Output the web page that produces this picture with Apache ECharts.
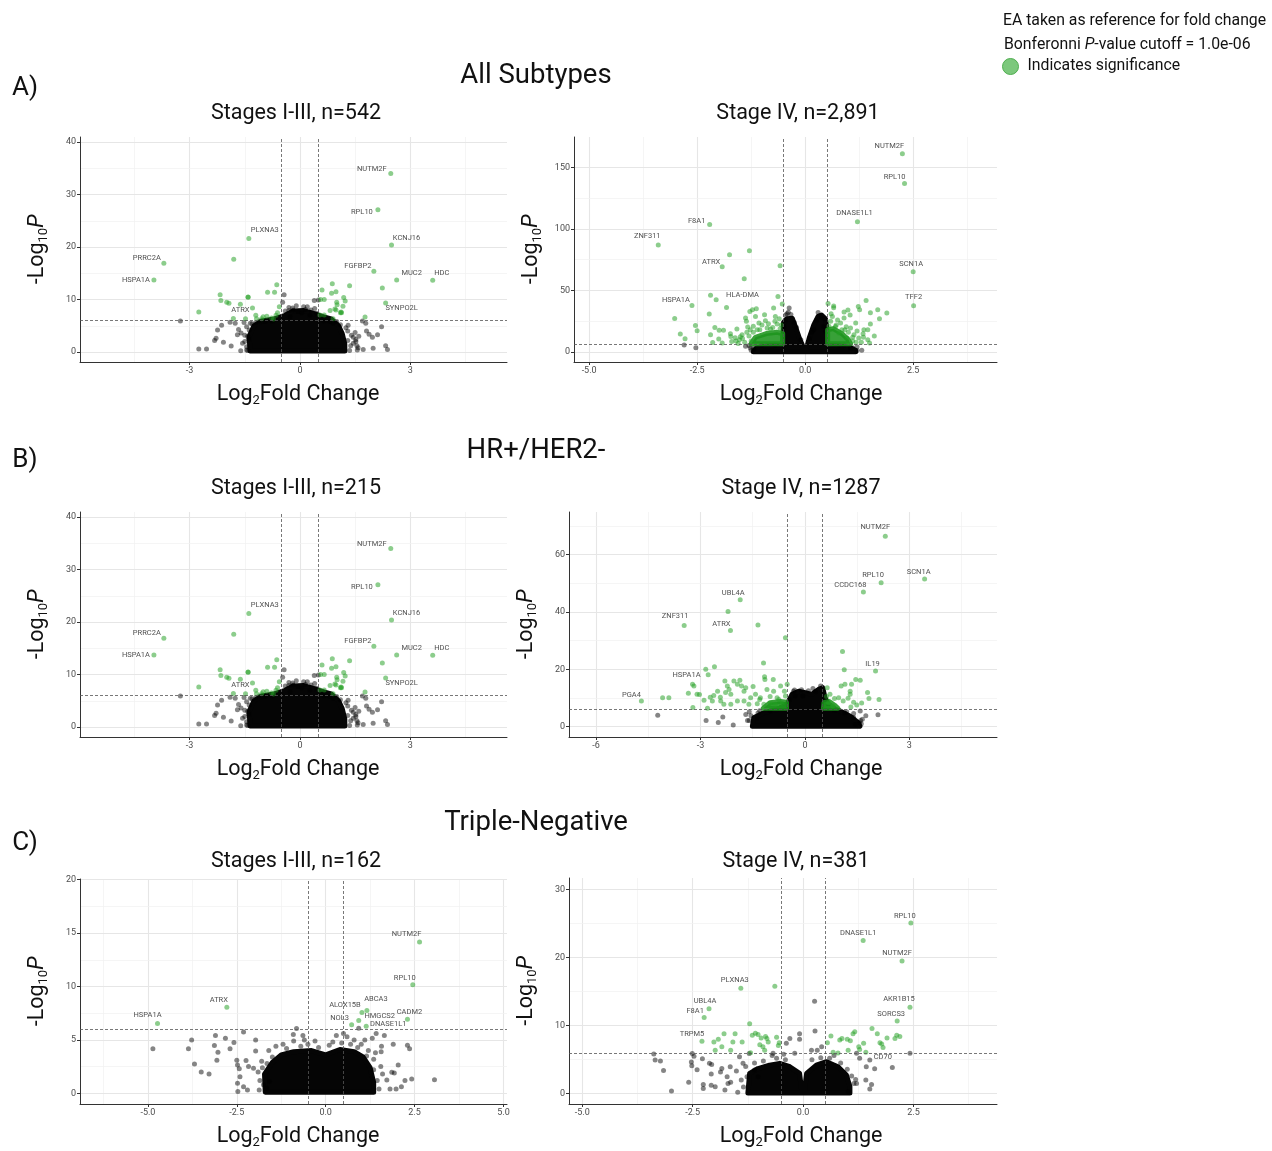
<!DOCTYPE html>
<html>
<head>
<meta charset="utf-8">
<script src="https://cdn.jsdelivr.net/npm/echarts@6.0.0/dist/echarts.min.js"></script>
<style>
html, body { margin: 0; padding: 0; background: #fff; }
#plot { width: 1272px; height: 1151px; }
</style>
</head>
<body>
<div id="plot"></div>
<script>
// ---- All Subtypes, Stages I-III ----
const a1Genes = [['NUTM2F', 2.47, 34.0], ['RPL10', 2.12, 27.1], ['KCNJ16', 2.49, 20.4], ['PLXNA3', -1.39, 21.6],
  ['PRRC2A', -3.70, 16.9], ['HSPA1A', -3.97, 13.7], ['FGFBP2', 2.01, 15.4], ['MUC2', 2.63, 13.7],
  ['HDC', 3.61, 13.65], ['SYNPO2L', 2.33, 9.33], ['ATRX', -1.62, 9.1]];
const a1Green = [[-1.80, 17.65], [-0.63, 12.8], [-0.88, 11.4], [-0.69, 11.4], [-1.41, 10.5], [-1.41, 10.45], [-2.17, 10.9],
  [-2.15, 9.8], [-1.99, 9.5], [-1.93, 9.3], [-1.29, 8.4], [-2.75, 7.6], [-0.56, 8.6], [-1.81, 6.4], [-1.48, 6.35],
  [-1.20, 7.0], [-1.0, 6.7], [-0.77, 6.5], [-0.65, 7.0], [-0.61, 7.5], [-1.18, 6.35], [-1.04, 6.35], [-0.9, 6.8], [-0.72, 6.3],
  [0.60, 11.8], [0.88, 13.0], [1.35, 12.6], [0.98, 11.5], [0.86, 11.2], [0.66, 10.0], [1.0, 9.5], [1.19, 10.4], [1.23, 9.7],
  [1.01, 9.0], [1.17, 8.7], [0.95, 8.2], [0.82, 7.9], [1.10, 7.5], [1.13, 7.5], [0.66, 7.05], [0.54, 7.05], [2.24, 12.2],
  [1.77, 6.67], [0.9, 6.35], [0.98, 8.0], [0.56, 10.0], [1.12, 7.6]];
const a1Black = [[-3.25, 5.9], [-2.75, 0.57], [-2.54, 0.57], [-2.24, 4.2], [-2.13, 5.1], [-2.28, 2.6], [-2.32, 2.2], [-2.08, 1.85],
  [-1.90, 5.65], [-1.87, 1.15], [-1.76, 5.5], [-1.67, 4.3], [-1.61, 0.25], [-1.56, 1.65], [-1.45, 0.4], [-0.43, 10.9],
  [-0.47, 9.5], [0.39, 9.8], [0.50, 9.9], [0.40, 8.3], [1.70, 5.9], [1.79, 5.5], [1.81, 4.0], [1.88, 3.4], [1.97, 2.8],
  [2.11, 3.3], [2.22, 4.8], [2.33, 1.2], [2.38, 0.5], [1.72, 0.5], [1.99, 0.7], [1.52, 2.4], [1.56, 0.4], [1.45, 1.65],
  [1.31, 5.1], [1.0, 5.8], [0.9, 5.5], [-0.18, 8.0], [-0.05, 7.7], [0.05, 7.5], [0.27, 7.0], [-0.27, 6.7], [-1.5, 3.2],
  [-1.45, 4.8], [-1.6, 3.6], [-1.4, 2.5], [-1.2, 5.6], [-0.3, 7.9], [0.15, 8.1], [0.6, 6.8], [1.5, 3.7], [1.6, 3.0],
  [1.55, 1.2], [-1.52, 5.6], [-1.7, 3.3], [-1.35, 5.5], [-1.42, 3.0], [-1.38, 4.2], [-1.3, 5.4], [-1.1, 5.9], [-0.95, 5.8],
  [-0.75, 5.9], [-0.4, 7.8], [-0.3, 8.5], [-0.1, 8.8], [0.1, 8.6], [0.3, 8.0], [0.45, 7.4], [0.65, 5.9], [0.8, 5.8],
  [1.1, 5.2], [1.3, 4.0], [1.4, 3.2], [1.52, 2.0], [1.58, 0.8], [-1.45, 1.0], [-1.5, 2.0], [-1.42, 0.3], [1.35, 0.3],
  [1.3, 2.2], [1.25, 4.6], [1.38, 1.2], [1.45, 2.8], [0.2, 8.6], [-0.2, 8.4]];
const a1Core = [[-1.36, 0.2], [-1.38, 3.0], [-1.25, 5.0], [-1.05, 5.9], [-0.7, 6.3], [-0.4, 7.0], [-0.2, 7.8], [0.1, 7.9],
  [0.35, 7.4], [0.6, 6.8], [0.85, 6.3], [1.05, 5.0], [1.15, 3.5], [1.22, 1.5], [1.22, 0.2]];

// ---- All Subtypes, Stage IV ----
const a2Genes = [['NUTM2F', 2.25, 161.1], ['RPL10', 2.30, 136.8], ['DNASE1L1', 1.21, 105.7], ['F8A1', -2.21, 103.5],
  ['ZNF311', -3.40, 87.0], ['ATRX', -1.92, 69.2], ['SCN1A', 2.50, 65.1], ['HSPA1A', -2.62, 37.8],
  ['HLA-DMA', -1.82, 36.2], ['TFF2', 2.51, 37.6]];
const a2Green = [[-1.29, 82.2], [-1.75, 78.9], [-0.58, 70.0], [-1.41, 59.5], [-2.19, 46.2], [-2.06, 42.4], [-2.22, 30.8],
  [-3.02, 27.3], [-2.54, 21.6], [-2.50, 17.3], [-2.89, 14.6], [-2.78, 10.8], [-2.09, 20.0], [-2.19, 14.05], [-2.14, 7.8],
  [-1.99, 17.6], [-1.89, 17.6], [-2.0, 10.5], [-1.92, 7.3], [-1.73, 14.9], [-1.72, 12.7], [-1.58, 18.6], [-1.52, 10.0],
  [-1.46, 14.0], [-1.28, 33.0], [-1.22, 34.3], [-1.13, 35.1], [-1.15, 28.9], [-1.07, 23.5], [-1.38, 27.6], [-1.36, 24.9],
  [-0.94, 30.3], [-0.92, 25.4], [-0.80, 18.6], [-0.73, 35.7], [-0.63, 45.1], [-0.53, 38.9], [-0.65, 22.7], [-0.69, 28.9],
  [-0.88, 19.5], [-1.11, 18.1], [-1.27, 18.1], [-1.33, 20.3], [-1.6, 9], [-1.4, 8], [-1.45, 11], [-1.35, 16], [-1.2, 21],
  [-1.0, 22], [-0.85, 23], [-0.7, 25], [-0.6, 27], [-1.55, 7], [-1.7, 8.5], [-1.3, 13], [-1.2, 16], [-1.05, 18],
  [-0.75, 20], [-0.58, 19], [-0.55, 22], [-1.5, 12.5], [-1.25, 9], [-1.62, 11.5],
  [0.53, 39.5], [0.66, 37.3], [0.66, 35.9], [0.90, 32.4], [0.99, 34.1], [1.04, 30.0], [1.23, 37.0], [1.26, 34.3],
  [1.41, 41.9], [1.51, 31.9], [1.68, 34.3], [1.72, 27.0], [1.89, 31.6], [1.51, 22.7], [1.17, 23.5], [1.36, 18.1],
  [1.45, 18.1], [1.34, 14.9], [1.24, 11.4], [1.45, 10.0], [1.49, 7.3], [0.90, 27.6], [0.82, 23.5], [0.70, 20.8],
  [0.92, 18.1], [1.05, 19.5], [0.78, 15.4], [0.59, 24.9], [0.63, 28.9], [1.13, 14.0], [0.97, 11.4], [1.3, 8], [1.35, 12],
  [1.1, 9], [0.6, 31], [0.75, 26], [1.2, 17], [1.6, 13], [0.55, 21], [0.72, 22], [1.0, 16], [1.1, 12], [1.18, 8],
  [0.95, 20.5], [0.85, 18]];
const a2Black = [[-2.80, 5.8], [-2.53, 3.5], [-0.37, 35.7], [-0.39, 32.2], [-0.46, 26.2], [-0.49, 20.8], [0.26, 25.7],
  [0.34, 29.5], [0.38, 28.1], [0.43, 20.8], [0.47, 16.8], [-1.38, 4.6], [1.31, 1.4], [1.05, 3.2], [-1.27, 3.2],
  [-1.19, 1.9], [-1.3, 5.2], [1.2, 4.2], [-1.0, 5.5], [0.9, 5.5], [-0.42, 31], [-1.25, 1.5], [-1.2, 3.5], [-0.7, 5.6],
  [-0.45, 30], [-0.33, 30.5], [0.3, 32], [0.45, 27], [0.8, 5.2], [1.1, 3.5], [1.2, 1.2], [-0.1, 10], [0.1, 11],
  [-0.2, 20], [0.2, 18], [-0.25, 24], [0.15, 16]];
const a2Core = [[-1.2, 0.3], [-1.12, 3.5], [-0.9, 5.0], [-0.52, 5.6], [-0.5, 24], [-0.42, 27], [-0.3, 27.5], [-0.22, 20],
  [-0.12, 10], [-0.03, 3], [0.03, 3], [0.1, 12], [0.2, 22], [0.3, 29], [0.38, 30], [0.47, 27], [0.5, 20], [0.52, 5.6],
  [0.8, 5.0], [1.05, 3.6], [1.17, 1.2], [1.17, 0.3]];
const a2GreenCoreL = [[-1.25, 6.8], [-1.15, 12], [-0.9, 15], [-0.65, 16], [-0.52, 15], [-0.52, 6.8]];
const a2GreenCoreR = [[0.52, 6.8], [0.52, 18], [0.65, 19], [0.85, 15], [1.0, 10], [1.05, 6.8]];

// ---- HR+/HER2-, Stages I-III (same picture as the All Subtypes panel) ----
const b1Genes = a1Genes;
const b1Green = a1Green;
const b1Black = a1Black;
const b1Core = a1Core;

// ---- HR+/HER2-, Stage IV ----
const b2Genes = [['NUTM2F', 2.31, 66.4], ['SCN1A', 3.44, 51.5], ['RPL10', 2.19, 50.2], ['CCDC168', 1.68, 47.0],
  ['UBL4A', -1.86, 44.3], ['ZNF311', -3.47, 35.3], ['ATRX', -2.14, 33.5], ['IL19', 2.03, 19.4],
  ['HSPA1A', -3.23, 14.8], ['PGA4', -4.70, 9.0]];
const b2Green = [[-2.21, 40.2], [-1.35, 35.5], [-0.56, 31.0], [1.08, 26.2], [-1.19, 22.2], [-2.60, 20.9], [-2.85, 20.0],
  [-2.78, 18.1], [1.13, 19.9], [-1.16, 17.4], [-1.15, 16.5], [-0.91, 16.5], [1.46, 16.5], [1.59, 16.2], [1.34, 14.8],
  [1.80, 11.9], [1.84, 9.8], [2.13, 9.5], [1.49, 7.6], [1.63, 8.3], [1.30, 12.4], [1.30, 11.3], [0.97, 10.1], [1.10, 9.0],
  [1.24, 9.9], [1.32, 6.9], [1.04, 14.2], [1.15, 14.8], [0.64, 13.6], [0.72, 11.3], [0.68, 8.4], [-3.91, 10.1], [-4.09, 10.1],
  [-3.35, 11.7], [-3.19, 14.2], [-3.10, 11.3], [-3.03, 11.2], [-3.22, 6.7], [-2.80, 6.4], [-2.90, 9.2], [-2.72, 10.3],
  [-2.62, 10.9], [-2.43, 10.3], [-2.42, 9.0], [-2.30, 15.9], [-2.23, 14.2], [-2.28, 11.9], [-2.18, 13.0], [-2.13, 11.3],
  [-2.04, 15.9], [-1.94, 14.8], [-1.87, 16.2], [-1.82, 14.2], [-1.75, 12.4], [-1.70, 13.6], [-1.56, 10.1], [-1.49, 14.0],
  [-1.42, 11.3], [-1.28, 10.1], [-1.09, 13.0], [-0.90, 12.4], [-0.80, 10.1], [-0.70, 14.2], [-0.59, 12.4], [-0.51, 14.8],
  [-2.33, 7.8], [-2.13, 7.8], [-1.94, 9.0], [-1.75, 9.0], [-1.61, 7.8], [-1.37, 8.0], [-1.18, 7.8], [-0.99, 8.0],
  [-0.85, 7.8], [-0.66, 8.0], [-0.56, 10.7], [-2.51, 12.4], [-2.66, 9.0], [-1.3, 9.5], [-1.0, 10.5], [-0.75, 9.5],
  [0.85, 9.8], [0.62, 10.5], [1.4, 8.5], [0.8, 7.2]];
const b2Black = [[-4.23, 4.0], [-2.84, 2.2], [-2.49, 1.5], [-2.36, 3.4], [-2.06, 0.6], [1.75, 3.8], [2.10, 4.2], [1.57, 1.4],
  [1.59, 5.5], [0.23, 13.3], [-0.33, 12.4], [-0.28, 10.7], [-0.06, 10.7], [-1.70, 4.3], [-1.65, 2.2], [-1.37, 3.1],
  [-1.6, 5.2], [-1.3, 5.6], [1.2, 5.2], [1.4, 4.6], [1.65, 2.6], [1.45, 0.8], [-1.6, 2.2], [-1.55, 3.8], [-1.35, 4.8],
  [-1.0, 5.6], [-0.6, 7.5], [-0.45, 9.5], [-0.3, 12.8], [-0.1, 12.9], [0.1, 12.5], [0.3, 12.4], [0.45, 14.2], [0.62, 8.5],
  [0.85, 5.8], [1.15, 4.8], [1.4, 3.2], [1.62, 1.0], [1.6, 2.2]];
const b2Core = [[-1.51, 0.2], [-1.47, 3.1], [-1.18, 4.9], [-0.80, 6.0], [-0.51, 7.8], [-0.37, 11.3], [-0.18, 12.4],
  [0.01, 11.9], [0.20, 11.3], [0.39, 13.0], [0.51, 13.6], [0.58, 10.1], [0.72, 6.6], [1.01, 5.5], [1.30, 3.7],
  [1.53, 1.4], [1.58, 0.2]];
const b2GreenCoreL = [[-1.2, 6.4], [-1.0, 8.4], [-0.7, 8.8], [-0.53, 8.5], [-0.53, 6.4]];
const b2GreenCoreR = [[0.53, 6.4], [0.55, 8.5], [0.7, 8.8], [0.85, 7.5], [0.95, 6.4]];

// ---- Triple-Negative, Stages I-III ----
const c1Genes = [['NUTM2F', 2.64, 14.16], ['RPL10', 2.45, 10.16], ['ATRX', -2.78, 8.06], ['HSPA1A', -4.73, 6.53],
  ['ABCA3', 1.16, 7.75], ['ALOX15B', 1.02, 7.56], ['HMGCS2', 0.93, 6.81], ['NOL3', 0.73, 6.41],
  ['DNASE1L1', 1.14, 6.28], ['CADM2', 2.30, 6.94]];
const c1Green = [];
const c1Black = [[-4.86, 4.16], [-3.86, 4.16], [-3.77, 5.0], [-3.69, 2.75], [-3.50, 2.0], [-3.28, 1.81], [-3.10, 5.4],
  [-3.13, 4.47], [-3.03, 3.84], [-3.06, 3.1], [-2.82, 5.16], [-2.69, 4.16], [-2.58, 4.75], [-2.31, 5.75], [-2.50, 3.1],
  [-2.48, 2.66], [-2.43, 2.3], [-2.41, 1.56], [-2.48, 0.94], [-2.47, 0.16], [-2.24, 3.06], [-2.17, 2.5], [-1.97, 5.0],
  [-1.97, 3.97], [-0.91, 5.5], [-0.82, 6.06], [-0.64, 5.4], [1.42, 5.6], [1.65, 5.4], [1.57, 4.4], [1.90, 4.6], [2.30, 4.5],
  [2.36, 4.16], [2.04, 2.66], [1.86, 1.97], [1.93, 1.9], [1.98, 0.4], [2.13, 0.62], [2.23, 1.19], [2.42, 1.34], [3.06, 1.28],
  [1.56, 3.9], [1.72, 1.25], [1.81, 0.4], [0.93, 6.1], [1.31, 5.16], [-1.66, 0.47], [-1.58, 1.1], [-1.87, 0.3], [-2.03, 2.34],
  [-2.31, 0.62], [-2.20, 0.3], [-1.2, 4.6], [-0.9, 4.9], [-0.6, 5.0], [-0.3, 4.9], [0.2, 4.8], [0.5, 5.6], [0.6, 5.3],
  [0.8, 5.0], [1.0, 4.6], [1.2, 4.0], [1.35, 3.2], [1.55, 2.5], [-1.8, 3.0], [-1.9, 2.0], [-1.85, 1.2], [-1.6, 4.0],
  [-1.4, 4.4], [0.3, 5.4], [1.1, 5.0], [-1.5, 3.4], [-1.1, 4.2], [-0.7, 4.4], [-0.2, 4.3], [0.1, 4.5], [0.45, 4.7],
  [0.9, 4.3], [1.15, 3.5], [1.35, 2.2], [1.45, 1.2], [1.5, 0.4], [-1.78, 2.4], [-1.75, 0.8], [-1.65, 2.8], [0.7, 4.6],
  [-0.5, 4.6], [1.4, 3.8], [1.6, 1.8]];
const c1Core = [[-1.7, 0.1], [-1.72, 1.8], [-1.5, 2.9], [-1.25, 3.6], [-0.9, 3.9], [-0.4, 4.0], [0, 3.6], [0.4, 4.1],
  [0.8, 3.9], [1.05, 3.4], [1.25, 2.4], [1.35, 1.0], [1.35, 0.1]];

// ---- Triple-Negative, Stage IV ----
const c2Genes = [['RPL10', 2.44, 25.1], ['DNASE1L1', 1.36, 22.5], ['NUTM2F', 2.24, 19.5], ['PLXNA3', -1.41, 15.5],
  ['AKR1B15', 2.42, 12.7], ['UBL4A', -2.13, 12.5], ['F8A1', -2.24, 11.2], ['SORCS3', 2.13, 10.7],
  ['TRPM5', -2.29, 7.7], ['CD70', 1.42, 6.08]];
const c2Green = [[-0.64, 15.8], [-1.21, 10.3], [-2.02, 7.6], [-1.92, 8.0], [-1.84, 6.9], [-1.79, 8.8], [-1.99, 6.4],
  [-1.59, 7.6], [-1.54, 8.8], [-1.38, 7.6], [-1.64, 6.4], [-1.15, 8.6], [-1.08, 8.9], [-1.02, 8.7], [-0.95, 8.2],
  [-0.85, 8.4], [-0.82, 8.1], [-0.98, 7.2], [-0.91, 6.9], [-0.79, 7.6], [-0.87, 6.4], [-0.60, 8.3], [-0.54, 7.5],
  [-0.56, 7.1], [-1.19, 6.03], [0.55, 7.5], [0.63, 8.5], [0.83, 7.9], [0.88, 8.1], [1.0, 8.0], [1.07, 7.8], [1.13, 8.8],
  [1.17, 9.1], [1.37, 7.4], [1.26, 6.9], [1.28, 6.5], [1.02, 6.4], [0.68, 6.1], [0.79, 6.0], [1.56, 9.6], [1.68, 8.8],
  [1.90, 8.2], [1.74, 7.5], [1.78, 7.3], [1.81, 6.8], [2.08, 8.1], [2.12, 8.6], [2.19, 8.4]];
const c2Black = [[-3.38, 5.83], [-3.35, 4.95], [-3.23, 4.8], [-3.16, 3.43], [-2.98, 0.4], [-2.59, 1.7], [-2.51, 5.9],
  [-2.47, 5.5], [-2.52, 4.1], [-2.53, 4.65], [-2.40, 3.53], [-2.28, 5.15], [-2.26, 1.37], [-2.26, 0.78], [-2.12, 4.46],
  [-2.07, 4.3], [-2.08, 2.9], [-2.08, 1.23], [-1.99, 1.03], [-1.87, 3.2], [-1.84, 3.7], [-1.77, 0.54], [-1.72, 2.5],
  [-1.70, 1.52], [-1.65, 3.97], [-1.64, 1.7], [-1.51, 3.33], [-1.48, 0.2], [-1.44, 5.44], [-1.36, 4.46], [-1.22, 5.9],
  [-1.27, 2.5], [-0.30, 8.1], [-0.08, 8.8], [-0.08, 8.0], [0.26, 13.6], [0.27, 9.2], [0.42, 6.9], [0.32, 6.4], [1.21, 5.93],
  [1.28, 5.2], [1.43, 3.97], [1.51, 4.95], [1.62, 3.68], [2.02, 3.87], [2.42, 5.93], [1.42, 2.0], [1.55, 1.37], [1.51, 0.69],
  [1.19, 2.1], [1.21, 1.52], [1.02, 0.3], [-1.02, 2.5], [-1.10, 3.5], [-0.68, 5.93], [-0.38, 7.4], [-0.44, 5.8], [-0.19, 5.93],
  [0.19, 6.4], [-1.3, 4.0], [-1.1, 4.5], [-0.9, 4.8], [-0.6, 5.2], [-0.4, 5.0], [0.2, 5.0], [0.4, 5.3], [0.6, 5.2],
  [0.85, 4.5], [1.0, 3.6], [1.1, 2.6], [-1.4, 2.0], [-1.35, 1.0], [1.15, 1.5], [0.7, 5.6], [-0.7, 5.6]];
const c2Core = [[-1.25, 0.1], [-1.21, 3.0], [-1.02, 3.7], [-0.76, 4.2], [-0.53, 4.46], [-0.30, 3.97], [-0.08, 3.0],
  [-0.03, 0.4], [0.03, 0.4], [0.08, 3.0], [0.30, 4.2], [0.53, 4.7], [0.79, 3.97], [0.98, 2.75], [1.06, 1.03], [1.06, 0.1]];

// cutoffs
const fcCut = [-0.5, 0.5];
const pCut = 6;

// label placement (px offset of label centre from point)
const a1Labels = { NUTM2F: [-19, -4], RPL10: [-16, 2], KCNJ16: [15, -7], PLXNA3: [16, -8], PRRC2A: [-17, -5],
  HSPA1A: [-18, 0], FGFBP2: [-16, -5], MUC2: [15, -7], HDC: [9, -7], SYNPO2L: [16, 5], ATRX: [0, 6] };
const a2Labels = { NUTM2F: [-13, -8], RPL10: [-10, -6], DNASE1L1: [-3, -9], F8A1: [-13, -3], ZNF311: [-11, -9],
  ATRX: [-11, -5], SCN1A: [-2, -8], HSPA1A: [-16, -5], 'HLA-DMA': [16, -12], TFF2: [0, -9] };
const b2Labels = { NUTM2F: [-10, -9], SCN1A: [-6, -7], RPL10: [-8, -8], CCDC168: [-13, -7], UBL4A: [-7, -7],
  ZNF311: [-9, -9], ATRX: [-9, -6], IL19: [-3, -7], HSPA1A: [-6, -9], PGA4: [-10, -6] };
const c1Labels = { NUTM2F: [-13, -8], RPL10: [-8, -7], ATRX: [-8, -7], HSPA1A: [-10, -8], ABCA3: [9, -11],
  ALOX15B: [-17, -7], HMGCS2: [21, -4], NOL3: [-12, -7], DNASE1L1: [22, -2], CADM2: [2, -7] };
const c2Labels = { RPL10: [-6, -7], DNASE1L1: [-5, -7], NUTM2F: [-5, -8], PLXNA3: [-6, -8], AKR1B15: [-11, -8],
  UBL4A: [-4, -8], F8A1: [-9, -6], SORCS3: [-6, -7], TRPM5: [-10, -7], CD70: [17, 5] };

const FONT = 'Roboto';
const GREEN = 'rgba(34,160,34,0.65)';
const BLACK = 'rgba(0,0,0,0.6)';

// box = grid left/top/width/height; shift = left padding that moves the x title right
const panels = [
  { box: [80, 137, 427, 225], shift: 9, x: [-5.98, 5.63], y: [-1.9, 40.95], xTicks: [-3, 0, 3], xDec: 0, yTicks: [0, 10, 20, 30, 40],
    xMinor: [-4.5, -1.5, 1.5, 4.5], yMinor: [5, 15, 25, 35], genes: a1Genes, labels: a1Labels, green: a1Green,
    black: a1Black, cores: [a1Core], greenCores: [] },
  { box: [574, 137, 423, 225], shift: 31, x: [-5.35, 4.44], y: [-8.1, 174.6], xTicks: [-5, -2.5, 0, 2.5], xDec: 1, yTicks: [0, 50, 100, 150],
    xMinor: [-3.75, -1.25, 1.25, 3.75], yMinor: [25, 75, 125], genes: a2Genes, labels: a2Labels, green: a2Green,
    black: a2Black, cores: [a2Core], greenCores: [a2GreenCoreL, a2GreenCoreR] },
  { box: [80, 512, 427, 225], shift: 9, x: [-5.98, 5.63], y: [-1.9, 40.95], xTicks: [-3, 0, 3], xDec: 0, yTicks: [0, 10, 20, 30, 40],
    xMinor: [-4.5, -1.5, 1.5, 4.5], yMinor: [5, 15, 25, 35], genes: b1Genes, labels: a1Labels, green: b1Green,
    black: b1Black, cores: [b1Core], greenCores: [] },
  { box: [569, 512, 428, 225], shift: 36, x: [-6.78, 5.52], y: [-3.58, 74.85], xTicks: [-6, -3, 0, 3], xDec: 0, yTicks: [0, 20, 40, 60],
    xMinor: [-4.5, -1.5, 1.5, 4.5], yMinor: [10, 30, 50, 70], genes: b2Genes, labels: b2Labels, green: b2Green,
    black: b2Black, cores: [b2Core], greenCores: [b2GreenCoreL, b2GreenCoreR] },
  { box: [80, 879, 427, 225], shift: 9, x: [-6.91, 5.10], y: [-1.0, 20.06], xTicks: [-5, -2.5, 0, 2.5, 5], xDec: 1, yTicks: [0, 5, 10, 15, 20],
    xMinor: [-6.25, -3.75, -1.25, 1.25, 3.75], yMinor: [2.5, 7.5, 12.5, 17.5], genes: c1Genes, labels: c1Labels, green: c1Green,
    black: c1Black, cores: [c1Core], greenCores: [] },
  { box: [569, 878, 428, 226], shift: 36, x: [-5.30, 4.39], y: [-1.51, 31.7], xTicks: [-5, -2.5, 0, 2.5], xDec: 1, yTicks: [0, 10, 20, 30],
    xMinor: [-3.75, -1.25, 1.25, 3.75], yMinor: [5, 15, 25], genes: c2Genes, labels: c2Labels, green: c2Green,
    black: c2Black, cores: [c2Core], greenCores: [] }
];

const nameRich = {
  a: { fontSize: 21.5, fontFamily: FONT, color: '#111' },
  s: { fontSize: 13, fontFamily: FONT, color: '#111', padding: [12, 0, 0, 0] },
  i: { fontSize: 21.5, fontFamily: FONT, color: '#111', fontStyle: 'italic' }
};

function polySeries(poly, i, fill, z) {
  return {
    type: 'custom', xAxisIndex: i, yAxisIndex: i, z: z, silent: true, data: poly, encode: { x: 0, y: 1 },
    renderItem: function (params, api) {
      if (params.dataIndex !== 0) return null;
      return {
        type: 'polygon',
        shape: { points: poly.map(p => api.coord(p)) },
        style: { fill: fill, stroke: fill, lineWidth: 5, lineJoin: 'round' }
      };
    }
  };
}

const grid = [], xAxis = [], yAxis = [], series = [];
const axisCol = '#333';
panels.forEach(function (p, i) {
  grid.push({ left: p.box[0], top: p.box[1], width: p.box[2], height: p.box[3] });
  xAxis.push({
    type: 'value', gridIndex: i, min: p.x[0], max: p.x[1], splitLine: { show: false },
    axisLine: { onZero: false, lineStyle: { color: axisCol, width: 1 } },
    axisTick: { show: true, length: 3, customValues: p.xTicks, lineStyle: { color: axisCol } },
    axisLabel: { customValues: p.xTicks, formatter: v => v.toFixed(p.xDec), fontSize: 9, color: '#4d4d4d', margin: 4, fontFamily: FONT },
    name: '{a|Log}{s|2}{a|Fold Change}', nameLocation: 'middle', nameGap: 20,
    nameTextStyle: { rich: nameRich, padding: [0, 0, 0, p.shift] }
  });
  yAxis.push({
    type: 'value', gridIndex: i, min: p.y[0], max: p.y[1], splitLine: { show: false },
    axisLine: { show: true, onZero: false, lineStyle: { color: axisCol, width: 1 } },
    axisTick: { show: true, length: 3, customValues: p.yTicks, lineStyle: { color: axisCol } },
    axisLabel: { customValues: p.yTicks, fontSize: 9, color: '#4d4d4d', margin: 4, fontFamily: FONT },
    name: '{a|-Log}{s|10}{i|P}', nameLocation: 'middle', nameRotate: 90, nameGap: 30,
    nameTextStyle: { rich: nameRich }
  });

  const major = { color: '#e6e6e6', width: 1.1, type: 'solid' };
  const minor = { color: '#f0f0f0', width: 0.7, type: 'solid' };
  const gridLines = []
    .concat(p.xTicks.map(v => ({ xAxis: v, lineStyle: major })))
    .concat(p.xMinor.map(v => ({ xAxis: v, lineStyle: minor })))
    .concat(p.yTicks.map(v => ({ yAxis: v, lineStyle: major })))
    .concat(p.yMinor.map(v => ({ yAxis: v, lineStyle: minor })));
  series.push({
    type: 'scatter', xAxisIndex: i, yAxisIndex: i, data: [], silent: true,
    markLine: { silent: true, z: 0, symbol: ['none', 'none'], label: { show: false }, animation: false, data: gridLines }
  });

  p.cores.forEach(c => series.push(polySeries(c, i, '#050505', 2)));
  series.push({
    type: 'scatter', xAxisIndex: i, yAxisIndex: i, z: 2, silent: true, data: p.black,
    symbolSize: 5, itemStyle: { color: BLACK }
  });
  series.push({
    name: i === 0 ? 'Indicates significance' : 'sig' + i,
    type: 'scatter', xAxisIndex: i, yAxisIndex: i, z: 3, silent: true, data: p.green,
    symbolSize: 5, itemStyle: { color: GREEN }
  });
  p.greenCores.forEach(c => series.push(polySeries(c, i, 'rgba(28,148,28,0.88)', 3)));
  series.push({
    type: 'scatter', xAxisIndex: i, yAxisIndex: i, z: 4, silent: true,
    data: p.genes.map(g => ({
      name: g[0], value: [g[1], g[2]],
      label: { offset: p.labels[g[0]] || [0, -8] }
    })),
    symbolSize: 5, itemStyle: { color: GREEN },
    label: { show: true, position: 'inside', formatter: '{b}', fontSize: 7.5, color: '#222', fontFamily: FONT }
  });

  const dash = { color: '#555', width: 0.8, type: [3, 2] };
  series.push({
    type: 'scatter', xAxisIndex: i, yAxisIndex: i, data: [], silent: true,
    markLine: {
      silent: true, z: 10, symbol: ['none', 'none'], label: { show: false }, animation: false,
      data: fcCut.map(v => ({ xAxis: v, lineStyle: dash })).concat([{ yAxis: pCut, lineStyle: dash }])
    }
  });
});

const heads = [
  ['All Subtypes', 536, 76, 27.5], ['A)', 25, 88, 26],
  ['Stages I-III, n=542', 296, 114, 21.5], ['Stage IV, n=2,891', 798, 114, 21.5],
  ['HR+/HER2-', 536, 451, 27.5], ['B)', 25, 460, 26],
  ['Stages I-III, n=215', 296, 489, 21.5], ['Stage IV, n=1287', 801, 489, 21.5],
  ['Triple-Negative', 536, 823, 27.5], ['C)', 25, 843, 26],
  ['Stages I-III, n=162', 296, 862, 21.5], ['Stage IV, n=381', 796, 862, 21.5]
];
const graphic = heads.map(h => ({
  type: 'text', x: h[1], y: h[2], silent: true,
  style: { text: h[0], fontSize: h[3], fontFamily: FONT, fill: '#111', align: 'center', verticalAlign: 'middle' }
}));
graphic.push({
  type: 'text', x: 1003, y: 21, silent: true,
  style: { text: 'EA taken as reference for fold change', fontSize: 15.8, fontFamily: FONT, fill: '#111', verticalAlign: 'middle' }
});
graphic.push({
  type: 'text', x: 1004, y: 45, silent: true,
  style: {
    text: 'Bonferonni {i|P}-value cutoff = 1.0e-06', fontSize: 15.8, fontFamily: FONT, fill: '#111', verticalAlign: 'middle',
    rich: { i: { fontSize: 15.8, fontFamily: FONT, fontStyle: 'italic', color: '#111' } }
  }
});

const chart = echarts.init(document.getElementById('plot'));
chart.setOption({
  animation: false,
  backgroundColor: '#fff',
  grid: grid,
  xAxis: xAxis,
  yAxis: yAxis,
  legend: {
    data: ['Indicates significance'], left: 1002, top: 58, padding: 0, icon: 'circle', itemWidth: 16, itemHeight: 16,
    selectedMode: false, textStyle: { fontSize: 15.8, color: '#111', fontFamily: FONT, padding: [0, 0, 0, 4] },
    itemStyle: { color: '#7cc87c', borderColor: '#4fae4f', borderWidth: 1, opacity: 1 }
  },
  graphic: graphic,
  series: series
});
</script>
</body>
</html>
